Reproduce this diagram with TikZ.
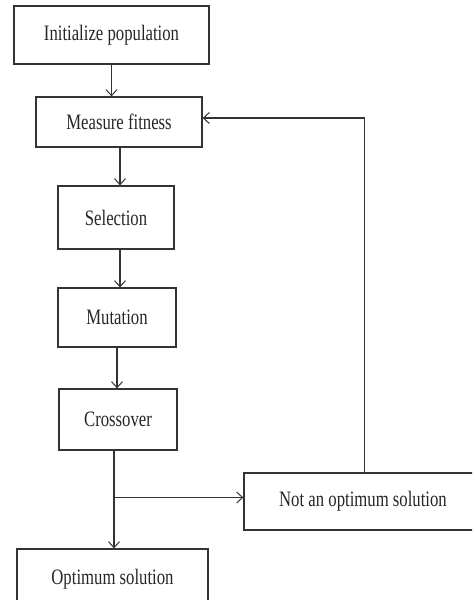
\documentclass[tikz,border=0pt]{standalone}
\usepackage{fontspec}
\setmainfont[FakeStretch=0.76]{Liberation Serif}
\usetikzlibrary{arrows.meta}
\definecolor{ln}{HTML}{333333}
\begin{document}
\begin{tikzpicture}[x=1pt,y=-1pt,
  box/.style={draw=ln,line width=1.3pt,rectangle,inner sep=0pt,
    font=\fontsize{22}{26}\selectfont,text=black!85},
  conn/.style={draw=ln,line width=1.2pt},
  arr/.style={conn,-{Straight Barb[length=6pt,width=11pt,line width=1pt]}}]
\useasboundingbox (0,0) rectangle (472,600);
\clip (0,0) rectangle (472,600);
\node[box,minimum width=195pt,minimum height=58pt] (init) at (111.5,35) {Initialize population};
\node[box,minimum width=166pt,minimum height=50pt] (fit) at (119,122) {Measure fitness};
\node[box,minimum width=116pt,minimum height=63pt] (sel) at (116,217.5) {Selection};
\node[box,minimum width=118pt,minimum height=59pt] (mut) at (117,317.5) {Mutation};
\node[box,minimum width=118pt,minimum height=61pt] (cross) at (118,419.5) {Crossover};
\node[box,minimum width=241pt,minimum height=57pt] (notopt) at (364.5,501.5) {\hspace*{-3pt}Not an optimum solution};
\node[box,minimum width=191pt,minimum height=60pt] (opt) at (112.5,579) {Optimum solution};
\coordinate (br) at (114,497.5);
\draw[arr] (init.south) -- (init.south |- fit.north);
\draw[arr] ([xshift=1pt]fit.south) -- ([xshift=1pt]fit.south |- sel.north);
\draw[arr] ([xshift=4pt]sel.south) -- ([xshift=4pt]sel.south |- mut.north);
\draw[arr] (mut.south) -- (mut.south |- cross.north);
\draw[arr] ([xshift=-4pt]cross.south) -- ([xshift=-4pt]cross.south |- opt.north);
\draw[arr] (br) -- (br -| notopt.west);
\draw[arr] (notopt.north) |- ([yshift=4pt]fit.east);
\end{tikzpicture}
\end{document}
